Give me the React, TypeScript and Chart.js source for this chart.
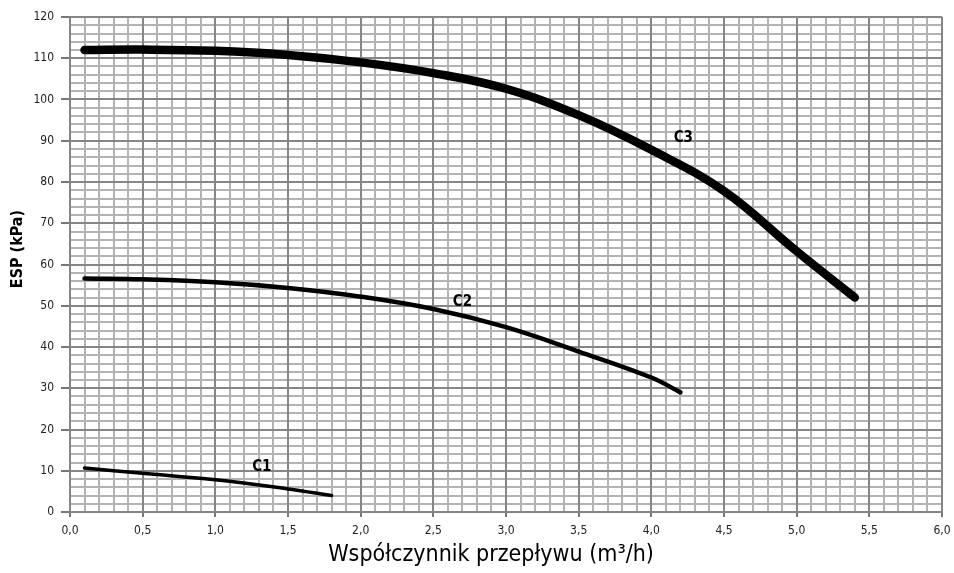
import React, { useEffect, useRef } from "react";
import { Chart, registerables } from "chart.js";

Chart.register(...registerables);

const c1X = [0.1, 0.5, 1.0, 1.5, 1.8];
const c1Y = [10.65, 9.4, 7.8, 5.6, 4.0];
const c2X = [0.1, 0.5, 1.0, 1.5, 2.0, 2.5, 3.0, 3.5, 4.0, 4.2];
const c2Y = [56.6, 56.4, 55.7, 54.3, 52.2, 49.2, 44.8, 38.9, 32.6, 29.0];
const c3X = [0.1, 0.5, 1.0, 1.5, 2.0, 2.5, 3.0, 3.5, 4.0, 4.5, 5.0, 5.4];
const c3Y = [112.0, 112.1, 111.8, 110.8, 109.0, 106.4, 102.6, 96.2, 87.8, 77.8, 63.2, 52.0];
const curveNames = ["C1", "C2", "C3"];
const labelX = [1.32, 2.7, 4.22];
const labelY = [10.9, 51.0, 90.6];
const xTitle = "Współczynnik przepływu (m³/h)";
const yTitle = "ESP (kPa)";

const FONT = "'Liberation Sans Narrow', 'DejaVu Sans Condensed', Roboto, sans-serif";
const MINOR = "#b3b3b3";
const MAJOR = "#868686";

const pts = (xs: number[], ys: number[]) => xs.map((x, i) => ({ x, y: ys[i] }));

export default function App() {
  const ref = useRef<HTMLCanvasElement | null>(null);
  useEffect(() => {
    document.body.style.margin = "0";
    if (!ref.current) return;
    const isMajorX = (v: number) => Math.round(v * 10) % 5 === 0;
    const isMajorY = (v: number) => Math.round(v) % 10 === 0;

    const majorPlugin = {
      id: "majors",
      beforeDatasetsDraw(chart: any) {
        const { ctx, chartArea, scales } = chart;
        ctx.save();
        ctx.strokeStyle = MAJOR;
        ctx.lineWidth = 2;
        for (let i = 0; i <= 12; i++) {
          const px = Math.round(scales.x.getPixelForValue(i * 0.5));
          ctx.beginPath();
          ctx.moveTo(px, chartArea.top);
          ctx.lineTo(px, chartArea.bottom);
          ctx.stroke();
        }
        for (let i = 0; i <= 12; i++) {
          const py = Math.round(scales.y.getPixelForValue(i * 10));
          ctx.beginPath();
          ctx.moveTo(chartArea.left, py);
          ctx.lineTo(chartArea.right, py);
          ctx.stroke();
        }
        ctx.restore();
      },
      afterDatasetsDraw(chart: any) {
        const { ctx, scales } = chart;
        ctx.save();
        ctx.fillStyle = "#000";
        ctx.font = `bold 15px ${FONT}`;
        ctx.textAlign = "center";
        ctx.textBaseline = "middle";
        curveNames.forEach((n, i) => {
          ctx.fillText(n, scales.x.getPixelForValue(labelX[i]), scales.y.getPixelForValue(labelY[i]));
        });
        ctx.font = `23px ${FONT}`;
        ctx.fillText(xTitle, 491, 555);
        ctx.save();
        ctx.translate(18, 249);
        ctx.rotate(-Math.PI / 2);
        ctx.font = `bold 16px ${FONT}`;
        ctx.fillText(yTitle, 0, 0);
        ctx.restore();
        ctx.restore();
      },
    };

    const line = (label: string, xs: number[], ys: number[], w: number) => ({
      label,
      data: pts(xs, ys),
      borderColor: "#000",
      borderWidth: w,
      pointRadius: 0,
      tension: 0.4,
      borderCapStyle: "round",
      borderJoinStyle: "round",
      fill: false,
    });

    const chart = new Chart(ref.current, {
      type: "line",
      data: {
        datasets: [
          line("C1", c1X, c1Y, 3.5),
          line("C2", c2X, c2Y, 4.5),
          line("C3", c3X, c3Y, 8.5),
        ],
      },
      options: {
        animation: false,
        responsive: false,
        layout: { padding: { top: 17, right: 12, left: 0, bottom: 0 } },
        plugins: { legend: { display: false }, tooltip: { enabled: false } },
        scales: {
          x: {
            type: "linear",
            min: 0,
            max: 6,
            afterFit: (s: any) => { s.height = 61; s.paddingRight = 0; s.paddingLeft = 0; },
            afterBuildTicks: (s: any) => {
              const t = [];
              for (let i = 0; i <= 60; i++) t.push({ value: i / 10 });
              s.ticks = t;
            },
            border: { color: MAJOR, width: 2 },
            grid: {
              color: MINOR,
              lineWidth: 2,
              tickLength: 5,
              tickColor: (c: any) => (c.tick && isMajorX(c.tick.value) ? "#777" : "rgba(0,0,0,0)"),
            },
            ticks: {
              autoSkip: false,
              maxRotation: 0,
              padding: 7,
              color: "#222",
              font: { family: FONT, size: 12 },
              callback: (v: any) => (isMajorX(Number(v)) ? (Math.round(Number(v) * 10) / 10).toFixed(1).replace(".", ",") : ""),
            },
            title: { display: false },
          },
          y: {
            type: "linear",
            min: 0,
            max: 120,
            afterFit: (s: any) => { s.width = 70; s.paddingTop = 0; s.paddingBottom = 0; },
            afterBuildTicks: (s: any) => {
              const t = [];
              for (let i = 0; i <= 60; i++) t.push({ value: i * 2 });
              s.ticks = t;
            },
            border: { color: MAJOR, width: 2 },
            grid: {
              color: MINOR,
              lineWidth: 2,
              tickLength: 9,
              tickColor: (c: any) => (c.tick && isMajorY(c.tick.value) ? "#777" : "rgba(0,0,0,0)"),
            },
            ticks: {
              autoSkip: false,
              padding: 7,
              color: "#222",
              font: { family: FONT, size: 12 },
              callback: (v: any) => (isMajorY(Number(v)) ? String(Math.round(Number(v))) : ""),
            },
            title: { display: false },
          },
        },
      } as any,
      plugins: [majorPlugin],
    });
    return () => chart.destroy();
  }, []);
  return (
    <div style={{ width: 954, height: 573, background: "#fff" }}>
      <canvas ref={ref} width={954} height={573} style={{ display: "block" }} />
    </div>
  );
}
